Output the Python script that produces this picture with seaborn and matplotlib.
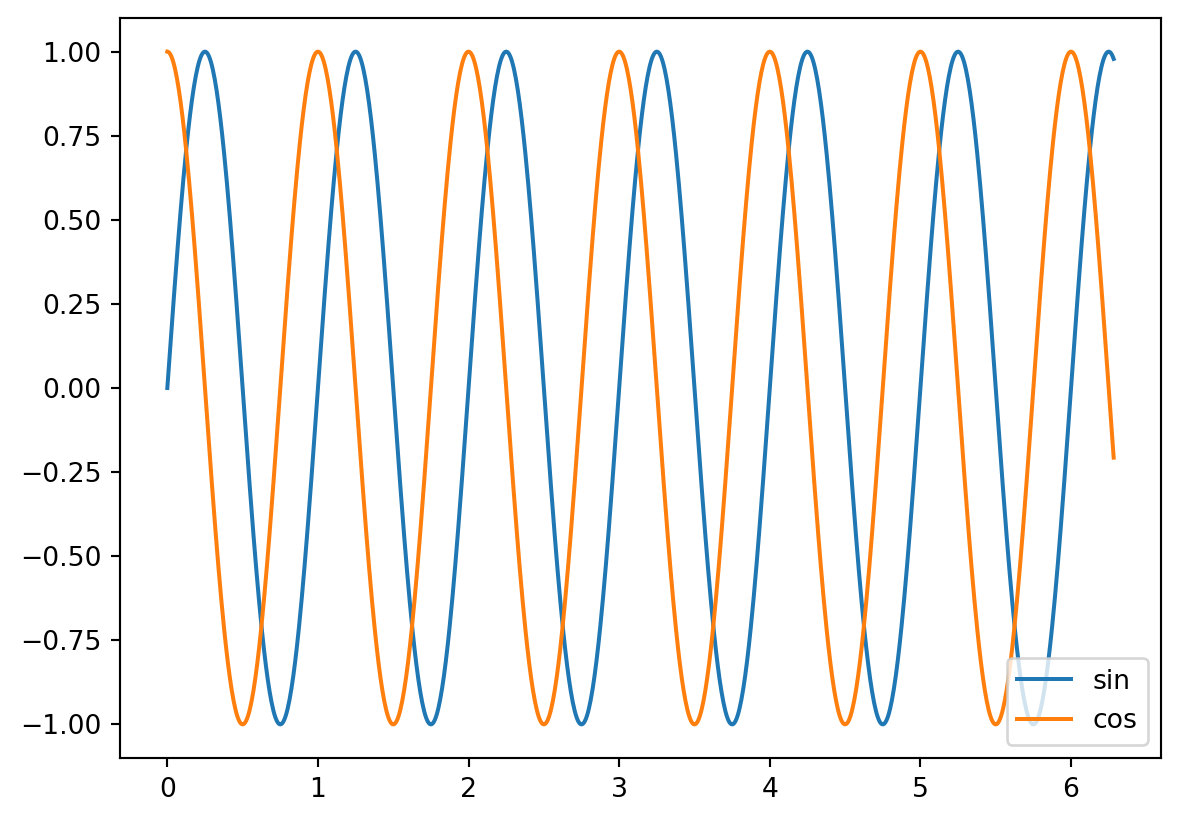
import numpy as np
import pandas as pd
import matplotlib
matplotlib.use("Agg")
import matplotlib.pyplot as plt
import seaborn as sns

# x runs from 0 to 2*pi, one full wave per unit of x
x = np.linspace(0, 2 * np.pi, 1000)
sin_values = np.sin(2 * np.pi * x)
cos_values = np.cos(2 * np.pi * x)
y_ticks = [-1.0, -0.75, -0.5, -0.25, 0.0, 0.25, 0.5, 0.75, 1.0]

dpi = 192
fig, ax = plt.subplots(figsize=(1180 / dpi, 822 / dpi), dpi=dpi)
sns.lineplot(x=x, y=sin_values, label='sin', ax=ax, color='#1f77b4')
sns.lineplot(x=x, y=cos_values, label='cos', ax=ax, color='#ff7f0e')
ax.set_yticks(y_ticks)
ax.legend(loc='lower right')
fig.subplots_adjust(left=120 / 1180, right=1161 / 1180, top=1 - 18 / 822, bottom=1 - 758 / 822)
fig.savefig('out.png', dpi=dpi)
